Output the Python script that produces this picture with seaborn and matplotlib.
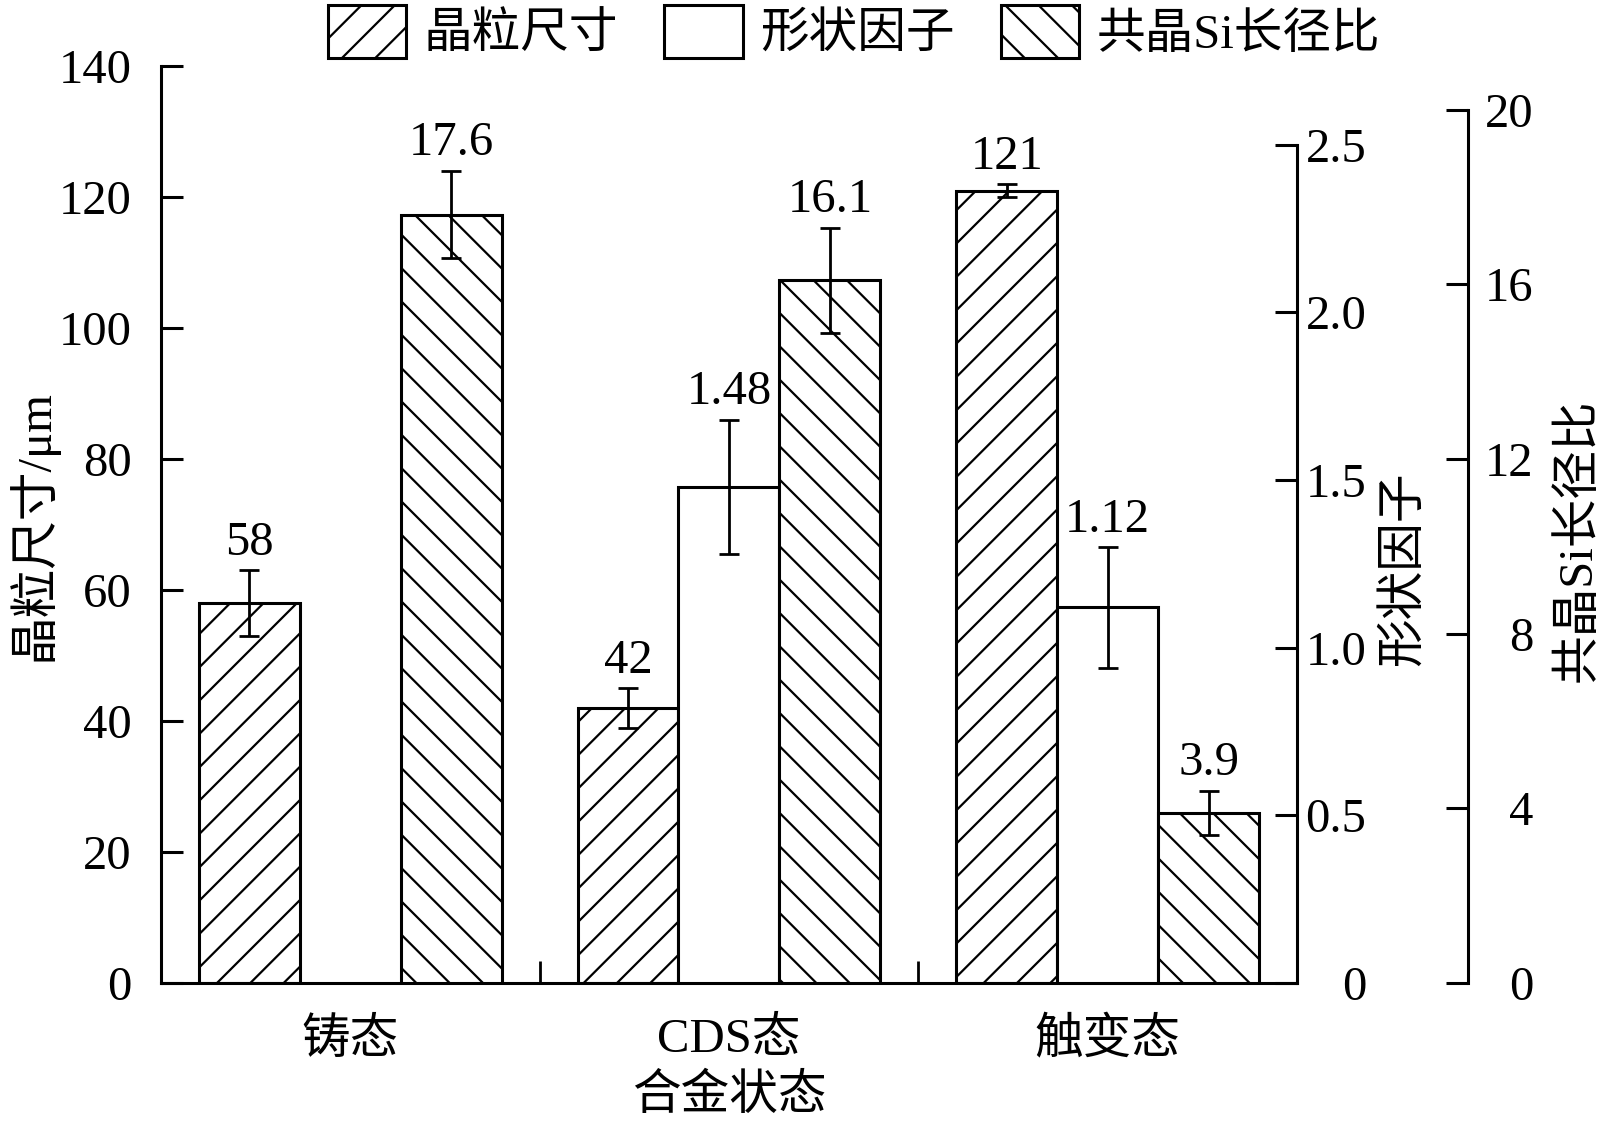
import numpy as np
import pandas as pd
import matplotlib
matplotlib.use("Agg")
import matplotlib.pyplot as plt
from matplotlib.patches import Patch
import seaborn as sns

# chart data
groups = ["铸态", "CDS态", "触变态"]
series = ["晶粒尺寸", "形状因子", "共晶Si长径比"]

grain_size = [58, 42, 121]
grain_err = [5, 3, 1]
shape_groups = ["CDS态", "触变态"]
shape_factor = [1.48, 1.12]
shape_err = [0.2, 0.18]
si_ratio = [17.6, 16.1, 3.9]
si_err = [1.0, 1.2, 0.5]

sns.set_style("ticks")
plt.rcParams["font.family"] = ["Liberation Serif", "Noto Sans CJK SC"]
plt.rcParams["font.size"] = 35
plt.rcParams["hatch.linewidth"] = 1.6
plt.rcParams["axes.linewidth"] = 2.2
for key in ("text.color", "axes.labelcolor", "xtick.color", "ytick.color", "axes.edgecolor"):
    plt.rcParams[key] = "black"

fig = plt.figure(figsize=(15.99, 11.22), dpi=100)
ax1 = fig.add_axes([0.1007, 0.1239, 0.7104, 0.8171])
ax2 = ax1.twinx()
ax3 = ax1.twinx()
ax3.spines["right"].set_position(("axes", 1.1505))

hatches = {"晶粒尺寸": "/", "形状因子": "", "共晶Si长径比": "\\"}
pal = {s: "white" for s in series}

df_grain = pd.DataFrame({"state": groups, "series": series[0], "value": grain_size})
df_shape = pd.DataFrame({"state": shape_groups, "series": series[1], "value": shape_factor})
df_si = pd.DataFrame({"state": groups, "series": series[2], "value": si_ratio})

plot_sets = [
    (ax1, df_grain, grain_size, grain_err, series[0]),
    (ax2, df_shape, shape_factor, shape_err, series[1]),
    (ax3, df_si, si_ratio, si_err, series[2]),
]

for ax, df, vals, errs, name in plot_sets:
    sns.barplot(data=df, x="state", y="value", hue="series", order=groups,
                hue_order=series, palette=pal, dodge=True, width=0.8,
                errorbar=None, legend=False, ax=ax,
                edgecolor="black", linewidth=2.2)
    bars = sorted([p for p in ax.patches if p.get_height() > 0], key=lambda p: p.get_x())
    xs = []
    for p in bars:
        p.set_hatch(hatches[name])
        p.set_edgecolor("black")
        p.set_facecolor("white")
        xs.append(p.get_x() + p.get_width() / 2)
    ax.errorbar(xs, vals, yerr=errs, fmt="none", ecolor="black",
                elinewidth=2, capsize=7, capthick=2)
    for x, v, e in zip(xs, vals, errs):
        ax.annotate(f"{v:g}", (x, v + e), xytext=(0, 4), textcoords="offset points",
                    ha="center", va="bottom")

# left axis
ax1.set_xlim(-0.5, 2.5)
ax1.set_ylim(0, 140)
ax1.set_yticks(np.arange(0, 141, 20))
ax1.set_xlabel("合金状态", labelpad=7)
ax1.set_ylabel("晶粒尺寸/μm", labelpad=1)
ax1.set_xticks([0, 1, 2])
ax1.set_xticklabels(groups)
ax1.set_xticks([0.5, 1.5], minor=True)
ax1.tick_params(axis="x", which="major", length=0, pad=25)
ax1.tick_params(axis="x", which="minor", length=16, width=2, direction="in")
ax1.tick_params(axis="y", length=16, width=2.2, direction="in", pad=21)
ax1.spines["top"].set_visible(False)
ax1.spines["right"].set_visible(False)

# shape factor axis
ax2.set_ylim(0, 2.734)
ax2.set_yticks([0, 0.5, 1.0, 1.5, 2.0, 2.5])
ax2.set_yticklabels(["0", "0.5", "1.0", "1.5", "2.0", "2.5"])
ax2.spines["right"].set_bounds(0, 2.5)
ax2.tick_params(axis="y", pad=50)
ax2.set_ylabel("形状因子", y=0.452, labelpad=11)

# Si ratio axis
ax3.set_ylim(0, 21.0)
ax3.set_yticks(np.arange(0, 21, 4))
ax3.spines["right"].set_bounds(0, 20)
ax3.tick_params(axis="y", pad=47)
ax3.set_ylabel("共晶Si长径比", y=0.483, labelpad=16)

for ax in (ax2, ax3):
    ax.tick_params(axis="y", length=16, width=2.2, direction="in")
    for lbl in ax.get_yticklabels():
        lbl.set_horizontalalignment("right")
    for side in ("top", "bottom", "left"):
        ax.spines[side].set_visible(False)
    ax.set_xlabel("")

handles = [Patch(facecolor="white", edgecolor="black", linewidth=2.2, hatch=hatches[s], label=s)
           for s in series]
fig.legend(handles=handles, loc="upper center", bbox_to_anchor=(0.534, 1.0), ncol=3,
           frameon=False, handlelength=1.62, handleheight=1.3, handletextpad=0.35,
           columnspacing=0.95, borderaxespad=0.0, borderpad=0.1)

fig.savefig("out.png", dpi=100)
